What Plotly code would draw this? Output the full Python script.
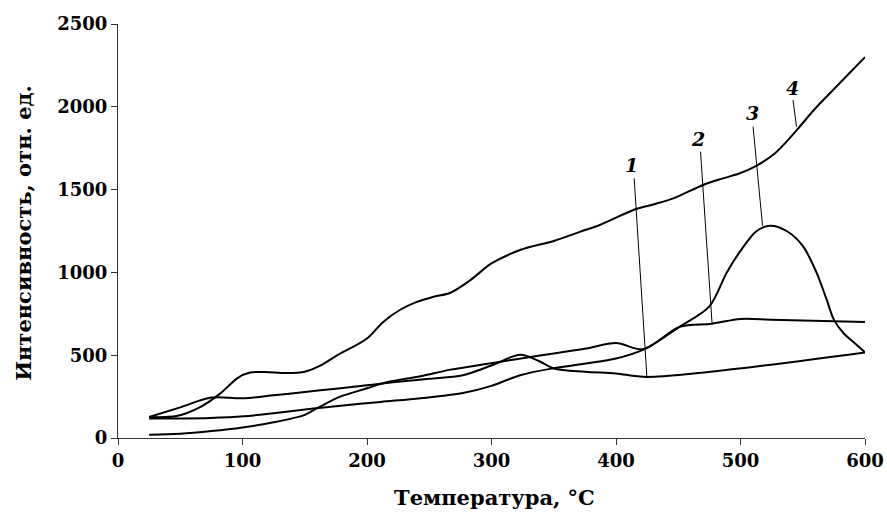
import plotly.graph_objects as go

# ---- data ----
temp_1 = [25, 50, 75, 100, 125, 150, 175, 200, 225, 250, 277, 300, 323, 338, 350, 375, 400, 425, 600]
int_1 = [127, 185, 244, 240, 258, 278, 298, 318, 340, 358, 379, 438, 502, 465, 420, 400, 390, 369, 517]

temp_2 = [25, 50, 75, 100, 125, 150, 160, 178, 200, 215, 243, 267, 300, 325, 350, 376, 400, 422, 451, 477, 500, 525, 550, 600]
int_2 = [20, 26, 42, 64, 95, 140, 180, 248, 300, 335, 373, 413, 452, 482, 510, 540, 574, 536, 671, 690, 719, 714, 710, 701]

temp_3 = [25, 50, 74, 101, 125, 157, 175, 211, 243, 277, 300, 323, 348, 376, 400, 422, 437, 451, 475, 489, 500, 513, 524, 537, 550, 561, 569, 575, 583, 591, 600]
int_3 = [117, 118, 121, 131, 150, 178, 192, 218, 240, 272, 315, 379, 419, 450, 480, 534, 600, 671, 795, 1000, 1130, 1250, 1282, 1250, 1160, 1000, 840, 715, 631, 578, 517]

temp_4 = [25, 47, 66, 82, 96, 106, 118, 135, 150, 162, 175, 200, 213, 227, 240, 253, 267, 283, 300, 323, 350, 371, 387, 414, 430, 446, 470, 486, 500, 513, 527, 537, 547, 560, 580, 600]
int_4 = [127, 133, 187, 268, 362, 395, 398, 392, 400, 435, 495, 601, 701, 776, 822, 852, 877, 953, 1054, 1135, 1190, 1245, 1286, 1377, 1410, 1447, 1528, 1568, 1600, 1645, 1715, 1790, 1875, 1990, 2145, 2300]

labels = ["1", "2", "3", "4"]
label_x = [412.5, 466, 510, 541.5]
label_y = [1648, 1805, 1964, 2112]
leader_x0 = [414.6, 467.9, 510.1, 542.2]
leader_y0 = [1568, 1729, 1880, 2041]
leader_x1 = [424.8, 477.2, 517.7, 545]
leader_y1 = [369, 687, 1281, 1880]

x_ticks = [0, 100, 200, 300, 400, 500, 600]
y_ticks = [0, 500, 1000, 1500, 2000, 2500]

FONT = "DejaVu Serif"

fig = go.Figure()
for tx, ty in [(temp_1, int_1), (temp_2, int_2), (temp_3, int_3), (temp_4, int_4)]:
    fig.add_trace(go.Scatter(x=tx, y=ty, mode="lines",
                             line=dict(color="black", width=2, shape="spline", smoothing=0.9),
                             showlegend=False, hoverinfo="skip"))

for i in range(len(labels)):
    fig.add_shape(type="line", xref="x", yref="y",
                  x0=leader_x0[i], y0=leader_y0[i], x1=leader_x1[i], y1=leader_y1[i],
                  line=dict(color="black", width=1))
    fig.add_annotation(x=label_x[i], y=label_y[i], xref="x", yref="y",
                       text="<b><i>%s</i></b>" % labels[i], showarrow=False,
                       font=dict(family=FONT, size=19, color="black"),
                       xanchor="center", yanchor="middle")

fig.add_annotation(x=0.5034, y=-0.1434, xref="paper", yref="paper",
                   text="<b>Температура, °C</b>", showarrow=False,
                   font=dict(family=FONT, size=21, color="black"),
                   xanchor="center", yanchor="middle")
fig.add_annotation(x=-0.1267, y=0.4964, xref="paper", yref="paper",
                   text="<b>Интенсивность, отн. ед.</b>", showarrow=False, textangle=-90,
                   font=dict(family=FONT, size=21, color="black"),
                   xanchor="center", yanchor="middle")

axis_common = dict(showgrid=False, zeroline=False, showline=True, linecolor="#333333",
                   linewidth=1, ticks="outside", ticklen=6, tickcolor="#333333",
                   automargin=False,
                   tickfont=dict(family=FONT, size=18, color="black"))

fig.update_xaxes(range=[0, 600], tickvals=x_ticks, ticktext=["<b>%d</b>" % v for v in x_ticks],
                 **axis_common)
fig.update_yaxes(range=[0, 2500], tickvals=y_ticks, ticktext=["<b>%d</b>" % v for v in y_ticks],
                 **axis_common)

fig.update_layout(width=887, height=518, plot_bgcolor="white", paper_bgcolor="white",
                  margin=dict(l=118, r=22, t=24, b=80, pad=0))

fig.write_html("out.html")
